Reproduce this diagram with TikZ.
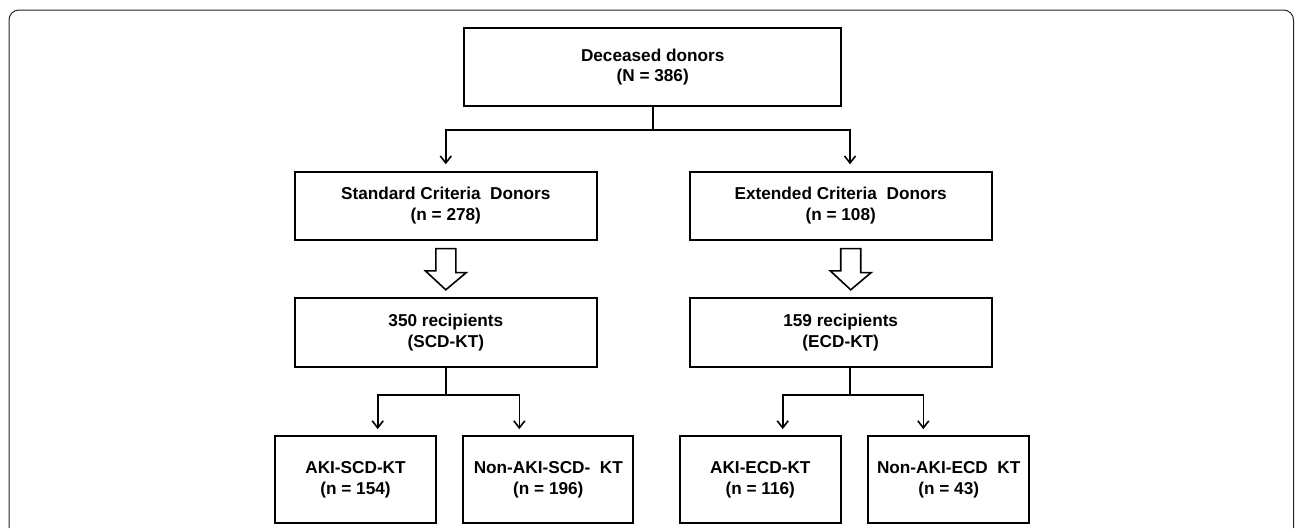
\documentclass[tikz,border=0pt]{standalone}
\usepackage{fontspec}
\setmainfont{Liberation Sans}
\usetikzlibrary{arrows.meta,calc}
\begin{document}
\begin{tikzpicture}[x=1pt,y=-1pt,
  box/.style={draw, line width=1.8pt, align=center, inner sep=0pt,
    font=\fontsize{17.2}{20.6}\selectfont\bfseries},
  conn/.style={line width=1.6pt},
  arr/.style={conn, -{Straight Barb[length=7pt,width=11pt,line width=1.6pt]}},
  hollow/.style={draw, line width=1.6pt, fill=white, line join=miter}]
\useasboundingbox (0,0) rectangle (1295,528);
\draw[line width=1pt, color=black!85, rounded corners=10pt]
  (9,528) -- (9,10) -- (1293.5,10) -- (1293.5,528);

% boxes
\node[box, minimum width=377pt, minimum height=77.7pt] (dd) at (652.7,67.2) {Deceased donors\\(N = 386)};
\node[box, minimum width=301.7pt, minimum height=68.3pt] (sc) at (445.8,205.8) {Standard Criteria\ \ Donors\\(n = 278)};
\node[box, minimum width=302pt, minimum height=68.3pt] (ec) at (840.7,205.8) {Extended Criteria\ \ Donors\\(n = 108)};
\node[box, minimum width=301.7pt, minimum height=69pt] (r1) at (445.8,332.8) {350 recipients\\(SCD-KT)};
\node[box, minimum width=302pt, minimum height=69pt] (r2) at (840.7,332.8) {159 recipients\\(ECD-KT)};
\node[box, minimum width=161pt, minimum height=87.6pt] (a1) at (355.5,479.5) {AKI-SCD-KT\\(n = 154)};
\node[box, minimum width=170pt, minimum height=87.6pt] (a2) at (548.3,479.5) {Non-AKI-SCD-\ \ KT\\(n = 196)};
\node[box, minimum width=160.7pt, minimum height=87.6pt] (a3) at (760.3,479.5) {AKI-ECD-KT\\(n = 116)};
\node[box, minimum width=160.7pt, minimum height=87.6pt] (a4) at (948.7,479.5) {Non-AKI-ECD\ \ KT\\(n = 43)};

% split from deceased donors
\coordinate (j1) at ($(dd.south)+(0,23.3)$);
\draw[conn, line cap=rect] (dd.south) -- (j1);
\draw[arr, shorten >=6.5pt] (j1) -| (sc.north);
\draw[arr, shorten >=6.5pt] (j1) -| ([xshift=9.3pt]ec.north);

% hollow arrows
\draw[hollow] ($(sc.south)+(-10,7.7)$) -- ++(20,0) -- ++(0,24) -- ++(10.5,0)
  -- ($(r1.north)+(0,-7.6)$) -- ++(-20.5,-19) -- ++(10.5,0) -- cycle;
\draw[hollow] ($(ec.south)+(0,7.7)$) -- ++(20,0) -- ++(0,24) -- ++(10.5,0)
  -- ($(r2.north)+(10,-7.6)$) -- ++(-20.5,-19) -- ++(10.5,0) -- cycle;

% split from SCD recipients
\coordinate (j2) at ($(r1.south)+(0,27)$);
\draw[conn, line cap=rect] (r1.south) -- (j2);
\draw[arr, shorten >=5.7pt] (j2) -| ([xshift=22.2pt]a1.north);
\draw[arr, shorten >=5.7pt] (j2) -| ([xshift=-29pt]a2.north);

% split from ECD recipients
\coordinate (j3) at ($(r2.south)+(9.3,27)$);
\draw[conn, line cap=rect] ([xshift=9.3pt]r2.south) -- (j3);
\draw[arr, shorten >=5.7pt] (j3) -| ([xshift=22.4pt]a3.north);
\draw[arr, shorten >=5.7pt] (j3) -| ([xshift=-25.4pt]a4.north);
\end{tikzpicture}
\end{document}
